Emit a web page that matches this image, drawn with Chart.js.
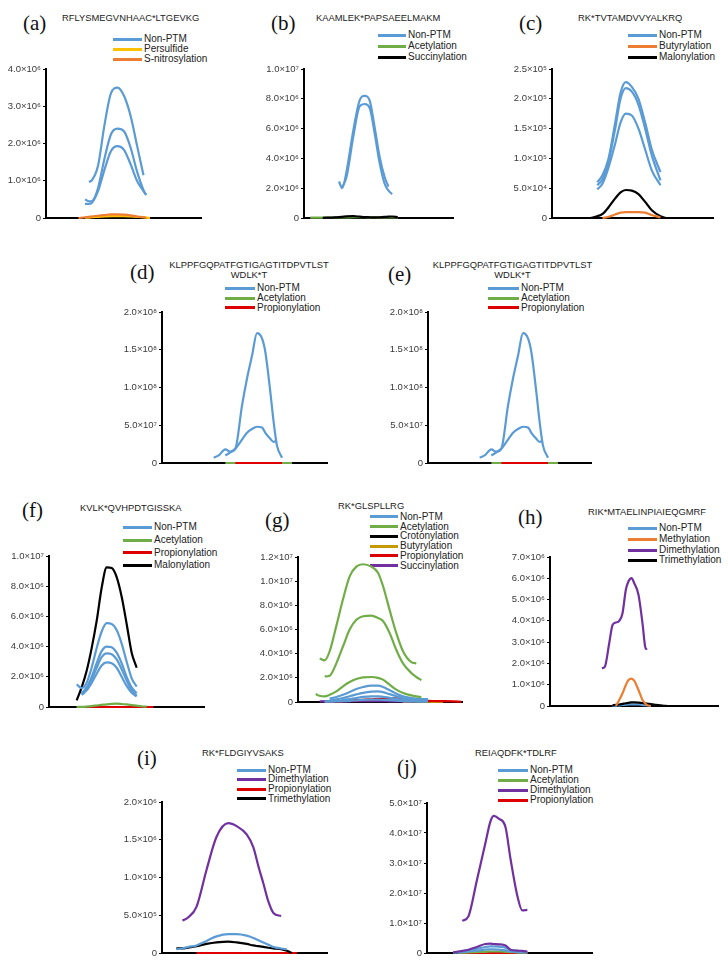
<!DOCTYPE html>
<html>
<head>
<meta charset="utf-8">
<script src="https://cdn.jsdelivr.net/npm/chart.js@4.4.0/dist/chart.umd.min.js"></script>
<style>
  body { margin: 0; background: #fff; width: 728px; height: 967px; position: relative; overflow: hidden;
         font-family: "Liberation Sans", Arial, sans-serif; }
  .tag { position: absolute; font-family: "Liberation Serif", "Times New Roman", serif; font-size: 21px; line-height: 22px; color: #111; }
  .ttl { position: absolute; font-size: 9.4px; line-height: 10px; color: #222; white-space: nowrap; }
  .leg { position: absolute; font-size: 10px; line-height: 12px; color: #222; white-space: nowrap; }
  .legline { position: absolute; height: 3px; }
  .box { position: absolute; }
</style>
</head>
<body>
<script>
// colours
const BLUE = '#5B9BD5', YELLOW = '#FFC000', ORANGE = '#ED7D31', GREEN = '#70AD47',
      BLACK = '#000000', RED = '#DD0000', PURPLE = '#7030A0', GOLD = '#C49A00';

// --- (a) RFLYSMEGVNHAAC*LTGEVKG, values x1e6 ---
const aTime       = [5, 6, 6.6, 7, 8, 9, 10, 11, 12, 13, 14, 15, 15.4, 16];
const aNonPtm1    = [null, null, 0.97, 1.0, 1.4, 2.5, 3.35, 3.5, 3.28, 2.75, 1.95, 1.15, null, null];
const aNonPtm2    = [null, 0.5, 0.45, 0.45, 0.8, 1.6, 2.25, 2.4, 2.33, 1.9, 1.25, 0.75, 0.62, null];
const aNonPtm3    = [null, 0.38, 0.38, 0.4, 0.72, 1.3, 1.8, 1.93, 1.83, 1.45, 1.0, 0.72, 0.62, null];
const aPersulfide = [null, 0.01, 0.01, 0.02, 0.03, 0.04, 0.05, 0.05, 0.05, 0.04, 0.03, 0.02, 0.01, 0];
const aNitrosyl   = [0, 0.02, 0.03, 0.04, 0.06, 0.08, 0.1, 0.1, 0.09, 0.07, 0.04, 0.02, 0.01, null];

// --- (b) KAAMLEK*PAPSAEELMAKM, x1e6 ---
const bTime      = [1, 3, 5, 5.6, 6.1, 6.8, 7.9, 8.9, 9.7, 10.5, 11.3, 12.1, 12.9, 13.5, 14.1, 15];
const bNonPtm1   = [null, null, null, 2.45, 2.0, 3.1, 5.9, 7.9, 8.2, 7.9, 6.1, 4.1, 2.75, 2.1, null, null];
const bNonPtm2   = [null, null, null, null, 2.05, 2.75, 5.5, 7.5, 7.65, 7.4, 5.7, 3.7, 2.3, 1.85, 1.6, null];
const bAcetyl    = [0.03, 0.03, 0.04, 0.04, 0.04, 0.04, 0.05, 0.05, 0.05, 0.04, 0.04, 0.04, 0.04, 0.04, 0.04, 0.03];
const bSuccinyl  = [null, 0.01, 0.04, 0.06, 0.08, 0.11, 0.12, 0.09, 0.06, 0.05, 0.04, 0.05, 0.07, 0.09, 0.1, 0.05];

// --- (c) RK*TVTAMDVVYALKRQ, x1e5 ---
const cTime     = [5.8, 6.8, 7.6, 8.5, 9.5, 10.3, 11.1, 12, 13, 14, 15, 16.3, 17.1];
const cNonPtm1  = [null, 0.6, 0.72, 1.0, 1.6, 2.1, 2.28, 2.2, 2.0, 1.6, 1.15, 0.77, null];
const cNonPtm2  = [null, 0.55, 0.65, 0.95, 1.5, 2.0, 2.18, 2.12, 1.9, 1.5, 1.05, 0.63, null];
const cNonPtm3  = [null, 0.48, 0.58, 0.85, 1.25, 1.6, 1.75, 1.72, 1.5, 1.15, 0.8, 0.55, null];
const cButyryl  = [null, null, 0, 0.02, 0.06, 0.09, 0.1, 0.1, 0.1, 0.09, 0.05, 0.01, null];
const cMalonyl  = [0, 0.03, 0.07, 0.18, 0.33, 0.43, 0.47, 0.46, 0.4, 0.27, 0.13, 0.03, 0];

// --- (d)/(e) KLPPFGQPATFGTIGAGTITDPVTLSTWDLK*T, x1e8 ---
const dTime       = [7.75, 8.5, 9.5, 10.25, 11, 12, 12.75, 13.5, 14.25, 15, 15.5, 16.25, 16.75, 17.25, 18, 19.5];
const dNonPtm1    = [0.07, 0.1, 0.18, 0.15, 0.19, 0.76, 1.12, 1.42, 1.72, 1.65, 1.47, 0.94, 0.54, 0.23, 0.07, null];
const dNonPtm2    = [null, null, 0.1, 0.14, 0.19, 0.31, 0.4, 0.45, 0.48, 0.47, 0.4, 0.32, 0.28, 0.29, null, null];
const dAcetyl     = [null, null, 0, 0, 0, 0, 0, 0, 0, 0, 0, 0, 0, 0, 0, 0];
const dPropionyl  = [null, null, null, null, 0, 0, 0, 0, 0, 0, 0, 0, 0, 0, 0, null];

// --- (f) KVLK*QVHPDTGISSKA, x1e6 ---
const fTime       = [4.15, 4.9, 5.65, 6.4, 7.15, 7.9, 8.65, 9.4, 10.15, 10.9, 11.65, 12.4, 13.15, 13.9, 14.65, 15.65];
const fMalonyl    = [0.44, 1.3, 2.4, 3.9, 5.7, 7.9, 9.25, 9.2, 8.6, 7.3, 5.5, 3.6, 2.6, null, null, null];
const fNonPtm1    = [1.5, 1.25, 1.6, 2.6, 3.9, 5.0, 5.55, 5.5, 5.1, 4.2, 3.0, 1.9, 1.35, null, null, null];
const fNonPtm2    = [null, 0.9, 1.3, 2.0, 2.9, 3.7, 4.0, 3.95, 3.6, 2.9, 2.0, 1.3, 0.9, null, null, null];
const fNonPtm3    = [null, 0.85, 1.2, 1.8, 2.6, 3.3, 3.55, 3.5, 3.15, 2.5, 1.75, 1.1, 0.75, null, null, null];
const fNonPtm4    = [null, 0.8, 1.1, 1.6, 2.2, 2.75, 2.95, 2.9, 2.6, 2.0, 1.4, 0.95, 0.7, null, null, null];
const fAcetyl     = [0, 0.01, 0.03, 0.06, 0.1, 0.14, 0.18, 0.21, 0.22, 0.2, 0.17, 0.13, 0.09, 0.05, 0.02, null];
const fPropionyl  = [0, 0, 0, 0, 0, 0, 0, 0, 0, 0, 0, 0, 0, 0, 0, 0];

// --- (g) RK*GLSPLLRG, x1e6 ---
const gTime      = [2.65, 3.25, 4, 4.75, 5.75, 6.75, 7.75, 8.75, 9.75, 11, 12, 12.75, 13.75, 14.75, 15.75, 17, 17.75, 18.5, 19.5, 20.75, 21.75, 23.25, 24.5];
const gAcetyl1   = [null, 3.6, 3.45, 4.2, 6.3, 8.5, 10.4, 11.2, 11.4, 11.2, 10.7, 9.6, 7.6, 5.7, 4.2, 3.3, 3.2, null, null, null, null, null, null];
const gAcetyl2   = [null, null, 2.12, 2.18, 3.2, 4.6, 6.0, 6.8, 7.1, 7.15, 6.95, 6.7, 5.7, 4.3, 3.2, 2.4, 2.07, 1.8, null, null, null, null, null];
const gAcetyl3   = [0.66, 0.52, 0.47, 0.6, 0.88, 1.3, 1.65, 1.9, 2.04, 2.07, 2.0, 1.85, 1.43, 1.02, 0.75, 0.55, 0.47, 0.41, null, null, null, null, null];
const gNonPtm1   = [null, null, null, 0.28, 0.41, 0.6, 0.83, 1.08, 1.24, 1.35, 1.35, 1.24, 0.97, 0.69, 0.47, 0.33, 0.28, 0.25, 0.25, null, null, null, null];
const gNonPtm2   = [null, null, null, 0.15, 0.22, 0.33, 0.48, 0.63, 0.76, 0.86, 0.88, 0.82, 0.65, 0.48, 0.33, 0.24, 0.2, 0.19, 0.18, null, null, null, null];
const gNonPtm3   = [null, null, 0.05, 0.07, 0.1, 0.16, 0.24, 0.33, 0.42, 0.47, 0.47, 0.43, 0.35, 0.26, 0.18, 0.12, 0.1, 0.09, 0.08, null, null, null, null];
const gNonPtm4   = [null, null, 0.02, 0.03, 0.04, 0.07, 0.1, 0.14, 0.18, 0.2, 0.2, 0.18, 0.15, 0.11, 0.08, 0.05, 0.04, 0.03, 0.03, null, null, null, null];
const gCrotonyl  = [0, 0, 0.01, 0.01, 0.01, 0.02, 0.02, 0.02, 0.02, 0.02, 0.02, 0.02, 0.02, 0.02, 0.01, 0.01, 0.01, 0.01, 0, null, null, null, null];
const gButyryl   = [null, null, null, null, null, null, null, null, null, null, null, null, null, null, 0.01, 0.02, 0.02, 0.02, 0.02, 0.01, 0, null, null];
const gPropionyl = [null, null, 0, 0.02, 0.05, 0.08, 0.12, 0.15, 0.18, 0.22, 0.26, 0.28, 0.3, 0.3, 0.27, 0.2, 0.16, 0.12, 0.09, 0.08, 0.07, 0.05, 0.02];
const gSuccinyl  = [null, 0.05, 0.05, 0.05, 0.06, 0.06, 0.06, 0.07, 0.07, 0.07, 0.07, 0.07, 0.06, 0.06, 0.06, 0.05, 0.05, null, null, null, null, null, null];

// --- (h) RIK*MTAELINPIAIEQGMRF, x1e6 ---
const hTime      = [7.8, 8.25, 8.9, 9.4, 9.9, 10.4, 10.9, 11.4, 11.8, 12.25, 12.65, 13.3, 13.9, 14.3, 14.55, 15.15, 15.9, 16.9, 17.65];
const hDimethyl  = [1.77, 1.85, 2.95, 3.81, 3.92, 4.0, 4.36, 5.46, 5.86, 6.01, 5.78, 5.23, 3.89, 2.79, 2.64, null, null, null, null];
const hMethyl    = [null, null, null, null, 0, 0.28, 0.6, 0.99, 1.22, 1.29, 1.19, 0.75, 0.28, 0.13, 0.05, 0, null, null, null];
const hTrimethyl = [null, null, null, 0.03, 0.05, 0.07, 0.1, 0.13, 0.15, 0.17, 0.17, 0.16, 0.14, 0.12, 0.11, 0.09, 0.06, 0.02, 0];
const hNonPtm    = [null, null, null, 0.01, 0.02, 0.03, 0.05, 0.06, 0.07, 0.08, 0.08, 0.07, 0.05, 0.04, 0.03, 0.02, null, null, null];

// --- (i) RK*FLDGIYVSAKS, x1e6 ---
const iTime       = [2.15, 3.05, 3.9, 5.15, 6.65, 8.15, 9.9, 11.15, 12.65, 13.65, 14.4, 15.15, 15.9, 16.65, 17.8, 18.65, 19.4, 20.15];
const iDimethyl   = [null, 0.43, 0.47, 0.61, 1.1, 1.54, 1.72, 1.68, 1.57, 1.4, 1.15, 0.92, 0.68, 0.53, 0.49, null, null, null];
const iNonPtm     = [0.05, 0.06, 0.08, 0.1, 0.16, 0.22, 0.25, 0.25, 0.23, 0.2, 0.17, 0.14, 0.11, 0.08, 0.06, 0.05, null, null];
const iTrimethyl  = [0.06, 0.06, 0.07, 0.09, 0.12, 0.14, 0.15, 0.14, 0.12, 0.1, 0.09, 0.08, 0.07, 0.06, 0.05, 0.03, 0, null];
const iPropionyl  = [null, null, null, 0, 0, 0, 0, 0, 0, 0, 0, 0, 0, 0, 0, 0, 0, 0];

// --- (j) REIAQDFK*TDLRF, x1e7 ---
const jTime       = [3.9, 4.65, 5.25, 6.15, 7.4, 8.65, 9.4, 9.9, 10.65, 11.65, 12.4, 13.4, 14.15, 14.9];
const jDimethyl1  = [null, null, 1.07, 1.22, 2.42, 3.64, 4.37, 4.57, 4.48, 4.2, 3.14, 1.92, 1.42, 1.44];
const jDimethyl2  = [0.02, 0.05, 0.07, 0.11, 0.2, 0.3, 0.31, 0.3, 0.29, 0.25, 0.11, 0.08, 0.07, 0.05];
const jNonPtm1    = [0.02, 0.04, 0.06, 0.09, 0.14, 0.2, 0.22, 0.22, 0.21, 0.18, 0.1, 0.07, 0.05, 0.04];
const jNonPtm2    = [0.01, 0.02, 0.03, 0.05, 0.08, 0.11, 0.12, 0.12, 0.11, 0.09, 0.05, 0.03, 0.02, 0.02];
const jAcetyl     = [null, 0.01, 0.01, 0.02, 0.03, 0.04, 0.05, 0.05, 0.05, 0.04, 0.03, 0.02, 0.01, 0.01];
const jPropionyl  = [null, 0, 0, 0, 0, 0, 0, 0, 0, 0, 0, 0, 0, 0];

// series listed top-most first
const panels = [
  { tag: '(a)', title: 'RFLYSMEGVNHAAC*LTGEVKG', time: aTime, unit: 1e6, yMax: 4e6, step: 1e6, xMax: 24,
    box: { axisX: 46, xEnd: 202, topY: 69, zeroY: 218 }, tagPos: [23, 23], titlePos: [62, 18],
    leg: { lineX: 113, textX: 144, rows: [39, 49, 59] },
    legend: [['Non-PTM', BLUE], ['Persulfide', YELLOW], ['S-nitrosylation', ORANGE]],
    series: [[aNonPtm1, BLUE], [aNonPtm2, BLUE], [aNonPtm3, BLUE], [aNitrosyl, ORANGE], [aPersulfide, YELLOW]] },
  { tag: '(b)', title: 'KAAMLEK*PAPSAEELMAKM', time: bTime, unit: 1e6, yMax: 1e7, step: 2e6, xMax: 24,
    box: { axisX: 304, xEnd: 454, topY: 69, zeroY: 218 }, tagPos: [271, 23], titlePos: [316, 18],
    leg: { lineX: 378, textX: 408, rows: [35, 46, 57] },
    legend: [['Non-PTM', BLUE], ['Acetylation', GREEN], ['Succinylation', BLACK]],
    series: [[bNonPtm1, BLUE], [bNonPtm2, BLUE], [bSuccinyl, BLACK], [bAcetyl, GREEN]] },
  { tag: '(c)', title: 'RK*TVTAMDVVYALKRQ', time: cTime, unit: 1e5, yMax: 2.5e5, step: 5e4, xMax: 24.35,
    box: { axisX: 552, xEnd: 714, topY: 69, zeroY: 218 }, tagPos: [519, 23], titlePos: [578, 18],
    leg: { lineX: 628, textX: 659, rows: [35, 46, 57] },
    legend: [['Non-PTM', BLUE], ['Butyrylation', ORANGE], ['Malonylation', BLACK]],
    series: [[cNonPtm1, BLUE], [cNonPtm2, BLUE], [cNonPtm3, BLUE], [cButyryl, ORANGE], [cMalonyl, BLACK]] },
  { tag: '(d)', title: 'KLPPFGQPATFGTIGAGTITDPVTLST<br>WDLK*T', time: dTime, unit: 1e8, yMax: 2e8, step: 5e7, xMax: 24.9,
    box: { axisX: 162, xEnd: 328, topY: 312, zeroY: 463 }, tagPos: [130, 272], titleCenter: [249, 260],
    leg: { lineX: 225, textX: 257, rows: [288, 298, 307.5] },
    legend: [['Non-PTM', BLUE], ['Acetylation', GREEN], ['Propionylation', RED]],
    series: [[dNonPtm1, BLUE], [dNonPtm2, BLUE], [dPropionyl, RED], [dAcetyl, GREEN]] },
  { tag: '(e)', title: 'KLPPFGQPATFGTIGAGTITDPVTLST<br>WDLK*T', time: dTime, unit: 1e8, yMax: 2e8, step: 5e7, xMax: 24.6,
    box: { axisX: 428, xEnd: 592, topY: 312, zeroY: 463 }, tagPos: [388, 274], titleCenter: [512.5, 260],
    leg: { lineX: 488, textX: 521, rows: [288, 298, 307.5] },
    legend: [['Non-PTM', BLUE], ['Acetylation', GREEN], ['Propionylation', RED]],
    series: [[dNonPtm1, BLUE], [dNonPtm2, BLUE], [dPropionyl, RED], [dAcetyl, GREEN]] },
  { tag: '(f)', title: 'KVLK*QVHPDTGISSKA', time: fTime, unit: 1e6, yMax: 1e7, step: 2e6, xMax: 23.4,
    box: { axisX: 49, xEnd: 205, topY: 556, zeroY: 707 }, tagPos: [22, 510], titlePos: [80, 508],
    leg: { lineX: 123, textX: 154, rows: [527.3, 540, 552.7, 565.3] },
    legend: [['Non-PTM', BLUE], ['Acetylation', GREEN], ['Propionylation', RED], ['Malonylation', BLACK]],
    series: [[fNonPtm1, BLUE], [fNonPtm2, BLUE], [fNonPtm3, BLUE], [fNonPtm4, BLUE], [fMalonyl, BLACK], [fAcetyl, GREEN], [fPropionyl, RED]] },
  { tag: '(g)', title: 'RK*GLSPLLRG', time: gTime, unit: 1e6, yMax: 1.2e7, step: 2e6, xMax: 24.75,
    box: { axisX: 298, xEnd: 463, topY: 557, zeroY: 702 }, tagPos: [265, 520], titlePos: [338, 506],
    leg: { lineX: 370, textX: 400, rows: [516.7, 526.5, 536.3, 546.1, 555.9, 565.7] },
    legend: [['Non-PTM', BLUE], ['Acetylation', GREEN], ['Crotonylation', BLACK], ['Butyrylation', GOLD], ['Propionylation', RED], ['Succinylation', PURPLE]],
    series: [[gAcetyl1, GREEN], [gAcetyl2, GREEN], [gAcetyl3, GREEN], [gNonPtm1, BLUE], [gNonPtm2, BLUE], [gNonPtm3, BLUE], [gNonPtm4, BLUE],
             [gPropionyl, RED], [gSuccinyl, PURPLE], [gButyryl, GOLD], [gCrotonyl, BLACK]] },
  { tag: '(h)', title: 'RIK*MTAELINPIAIEQGMRF', time: hTime, unit: 1e6, yMax: 7e6, step: 1e6, xMax: 25.4,
    box: { axisX: 550, xEnd: 719, topY: 557, zeroY: 706 }, tagPos: [518, 517], titlePos: [588, 512],
    leg: { lineX: 628, textX: 659, rows: [528.3, 539, 550, 560] },
    legend: [['Non-PTM', BLUE], ['Methylation', ORANGE], ['Dimethylation', PURPLE], ['Trimethylation', BLACK]],
    series: [[hDimethyl, PURPLE], [hMethyl, ORANGE], [hTrimethyl, BLACK], [hNonPtm, BLUE]] },
  { tag: '(i)', title: 'RK*FLDGIYVSAKS', time: iTime, unit: 1e6, yMax: 2e6, step: 5e5, xMax: 24.8,
    box: { axisX: 162, xEnd: 328, topY: 802, zeroY: 953 }, tagPos: [137, 758], titlePos: [202, 753],
    leg: { lineX: 237, textX: 268, rows: [770, 779.3, 789, 798.7] },
    legend: [['Non-PTM', BLUE], ['Dimethylation', PURPLE], ['Propionylation', RED], ['Trimethylation', BLACK]],
    series: [[iDimethyl, PURPLE], [iNonPtm, BLUE], [iTrimethyl, BLACK], [iPropionyl, RED]] },
  { tag: '(j)', title: 'REIAQDFK*TDLRF', time: jTime, unit: 1e7, yMax: 5e7, step: 1e7, xMax: 24.65,
    box: { axisX: 427, xEnd: 593, topY: 803, zeroY: 953 }, tagPos: [397, 767], titlePos: [475, 753],
    leg: { lineX: 498, textX: 530, rows: [770, 780, 790, 800] },
    legend: [['Non-PTM', BLUE], ['Acetylation', GREEN], ['Dimethylation', PURPLE], ['Propionylation', RED]],
    series: [[jDimethyl1, PURPLE], [jDimethyl2, PURPLE], [jNonPtm1, BLUE], [jNonPtm2, BLUE], [jAcetyl, GREEN], [jPropionyl, RED]] }
];

const SUP = '⁰¹²³⁴⁵⁶⁷⁸⁹';
function sci(v) {
  if (v === 0) return '0';
  const e = Math.floor(Math.log10(v) + 1e-9);
  const m = v / Math.pow(10, e);
  return m.toFixed(1) + '×10' + String(e).split('').map(d => SUP[d]).join('');
}

function addDiv(cls, html, css) {
  const d = document.createElement('div');
  d.className = cls;
  d.innerHTML = html;
  d.style.cssText = css;
  document.body.appendChild(d);
  return d;
}

Chart.defaults.font.family = '"Liberation Sans", Arial, sans-serif';

panels.forEach(p => {
  // panel letter + peptide title
  addDiv('tag', p.tag, `left:${p.tagPos[0]}px;top:${p.tagPos[1] - 11}px`);
  if (p.titleCenter) {
    addDiv('ttl', p.title, `left:${p.titleCenter[0] - 100}px;width:200px;text-align:center;top:${p.titleCenter[1]}px`);
  } else {
    addDiv('ttl', p.title, `left:${p.titlePos[0]}px;top:${p.titlePos[1] - 5}px`);
  }
  // legend
  p.legend.forEach(([name, color], i) => {
    const y = p.leg.rows[i];
    addDiv('legline', '', `left:${p.leg.lineX}px;top:${y - 1.5}px;width:${p.leg.textX - p.leg.lineX - 2.5}px;background:${color}`);
    addDiv('leg', name, `left:${p.leg.textX}px;top:${y - 6}px`);
  });

  // chart
  const pad = 8, yw = 60, b = p.box;
  const holder = addDiv('box', '', `left:${b.axisX - yw}px;top:${b.topY - pad}px;width:${yw + b.xEnd - b.axisX}px;height:${b.zeroY - b.topY + 2 * pad}px`);
  const cv = document.createElement('canvas');
  holder.appendChild(cv);

  const datasets = p.series.map(([vals, color]) => ({
    data: vals.map((v, i) => v == null ? null : { x: p.time[i], y: v * p.unit }).filter(Boolean),
    borderColor: color,
    borderWidth: 2.2,
    pointRadius: 0,
    cubicInterpolationMode: 'monotone',
    fill: false,
    clip: false
  }));

  new Chart(cv, {
    type: 'line',
    data: { datasets },
    options: {
      responsive: true,
      maintainAspectRatio: false,
      animation: false,
      layout: { padding: { top: pad, bottom: pad, left: 0, right: 0 } },
      plugins: { legend: { display: false }, tooltip: { enabled: false } },
      scales: {
        x: {
          type: 'linear', min: 0, max: p.xMax,
          grid: { display: false },
          ticks: { display: false },
          border: { color: '#000', width: 2 },
          afterFit: s => { s.height = 0; }
        },
        y: {
          min: 0, max: p.yMax,
          ticks: { stepSize: p.step, callback: v => sci(v), color: '#3a3a3a', font: { size: 9.5 }, padding: 2 },
          grid: { drawOnChartArea: false, tickLength: 3, color: '#000' },
          border: { color: '#000', width: 2 },
          afterFit: s => { s.width = yw; }
        }
      }
    }
  });
});
</script>
</body>
</html>
